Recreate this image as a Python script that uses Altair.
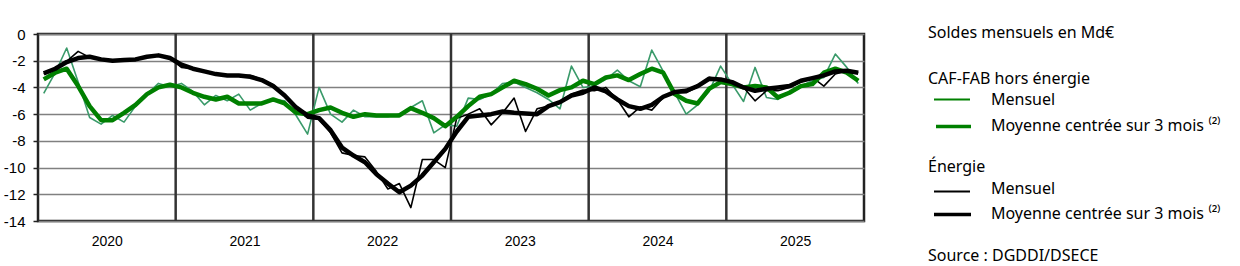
import altair as alt
import pandas as pd

years = [2020, 2021, 2022, 2023, 2024, 2025]

caf_mensuel = [
    -4.45, -2.9, -1.05, -3.6, -6.25, -6.75, -6.1, -6.6, -5.4, -4.5, -3.7, -3.95,
    -3.7, -4.3, -5.3, -4.6, -5.0, -4.5, -5.7, -5.2, -4.9, -5.0, -6.1, -7.5,
    -4.0, -6.0, -6.6, -5.7, -6.2, -6.2, -6.2, -6.0, -5.5, -5.0, -7.4, -6.8,
    -6.9, -4.8, -4.9, -4.5, -3.7, -3.6, -4.0, -4.4, -4.9, -5.6, -2.4, -4.0,
    -3.9, -3.4, -2.7, -3.5, -3.95, -1.2, -2.8, -4.4, -6.0, -5.3, -4.3, -2.4,
    -3.75, -5.05, -2.5, -4.75, -4.9, -4.3, -3.9, -3.5, -3.25, -1.5, -2.5, -3.7,
]
caf_moyenne = [
    -3.4, -2.9, -2.6, -3.9, -5.4, -6.45, -6.45, -5.9, -5.3, -4.5, -4.0, -3.8,
    -4.0, -4.4, -4.7, -4.9, -4.7, -5.2, -5.2, -5.2, -4.9, -5.2, -5.9, -6.0,
    -5.7, -5.5, -5.9, -6.2, -6.0, -6.1, -6.1, -6.1, -5.55, -5.9, -6.3, -6.9,
    -6.2, -5.4, -4.7, -4.5, -4.0, -3.5, -3.75, -4.1, -4.6, -4.2, -4.0, -3.5,
    -3.75, -3.25, -3.1, -3.45, -3.0, -2.6, -2.9, -4.5, -5.0, -5.2, -4.1, -3.6,
    -3.75, -4.0, -3.9, -4.0, -4.75, -4.4, -3.9, -3.75, -2.9, -2.6, -2.9, -3.5,
]
energie_mensuel = [
    -3.0, -2.6, -2.05, -1.3, -1.75, -1.9, -2.0, -1.95, -1.9, -1.75, -1.6, -1.8,
    -2.5, -2.6, -2.8, -3.0, -3.1, -3.15, -3.1, -3.4, -3.8, -4.6, -5.6, -6.3,
    -6.4, -7.4, -8.9, -9.1, -9.2, -10.3, -11.6, -11.2, -13.0, -9.4, -9.4, -10.0,
    -6.3, -6.0, -5.6, -6.8, -5.9, -4.8, -7.3, -5.6, -5.4, -5.1, -4.5, -4.2,
    -4.25, -4.0, -4.9, -6.2, -5.45, -5.7, -4.75, -4.4, -4.4, -3.95, -3.25, -3.4,
    -3.7, -4.0, -5.0, -4.25, -4.25, -4.0, -3.6, -3.25, -3.9, -3.0, -2.75, -2.9,
]
energie_moyenne = [
    -2.95, -2.6, -2.1, -1.8, -1.7, -1.9, -2.0, -1.95, -1.9, -1.7, -1.6, -1.8,
    -2.3, -2.6, -2.8, -3.0, -3.1, -3.1, -3.2, -3.45, -3.9, -4.6, -5.5, -6.1,
    -6.3, -7.2, -8.5, -9.1, -9.6, -10.5, -11.2, -11.85, -11.35, -10.6, -9.6, -8.6,
    -7.3, -6.2, -6.1, -6.0, -5.8, -5.9, -5.95, -6.0, -5.4, -5.1, -4.6, -4.4,
    -4.0, -4.3, -4.9, -5.4, -5.6, -5.3, -4.7, -4.35, -4.25, -3.9, -3.35, -3.4,
    -3.6, -4.0, -4.25, -4.1, -4.0, -3.9, -3.5, -3.3, -3.1, -2.8, -2.75, -2.9,
]
y_ticks = [0, -2, -4, -6, -8, -10, -12, -14]

FONT = "Noto Sans"
AXIS_FONT = "Liberation Sans"
GREEN_THIN = "#3a9a6a"
GREEN = "#008000"

n = len(caf_mensuel)
months = [i + 0.5 for i in range(n)]
df = pd.DataFrame({
    "m": months,
    "caf_mensuel": caf_mensuel,
    "caf_moyenne": caf_moyenne,
    "energie_mensuel": energie_mensuel,
    "energie_moyenne": energie_moyenne,
})
one = pd.DataFrame({"k": [0]})

x_scale = alt.Scale(domain=[0, 12 * len(years)], nice=False, zero=False)
x_axis = alt.Axis(
    values=[12 * i + 6 for i in range(len(years))],
    labelExpr=f"'' + ({years[0]} + floor(datum.value / 12))",
    ticks=False, grid=False, domain=False, title=None,
    labelFont=AXIS_FONT, labelFontSize=14, labelColor="#000", labelPadding=13,
)
y_scale = alt.Scale(domain=[-14, 0], nice=False, zero=False)
y_axis = alt.Axis(
    values=y_ticks, title=None, labelFont=AXIS_FONT, labelFontSize=15, labelColor="#000",
    labelExpr="'' + datum.value", labelPadding=8, tickSize=5, tickColor="#222",
    tickWidth=1.5, grid=True, gridColor="#808080", gridWidth=1.5, domain=False,
)

base = alt.Chart(df)

def series(col, color, width):
    return base.mark_line(color=color, strokeWidth=width, strokeJoin="round").encode(
        x=alt.X("m:Q", scale=x_scale, axis=x_axis),
        y=alt.Y(f"{col}:Q", scale=y_scale, axis=y_axis),
    )

bounds = pd.DataFrame({"b": [12 * i for i in range(1, len(years))]})
rules = alt.Chart(bounds).mark_rule(color="#333333", strokeWidth=2.5).encode(
    x=alt.X("b:Q", scale=x_scale, axis=x_axis)
)

l_caf_m = series("caf_mensuel", GREEN_THIN, 1.6)
l_en_m = series("energie_mensuel", "#000000", 1.6)
l_caf_ma = series("caf_moyenne", GREEN, 4.5)
l_en_ma = series("energie_moyenne", "#000000", 4.5)

def txt(s, x, y, size=16):
    return alt.Chart(one).mark_text(
        align="left", baseline="middle", font=FONT, fontSize=size, color="#000",
        fontWeight="normal"
    ).encode(x=alt.value(x), y=alt.value(y), text=alt.value(s))

def sample(x1, x2, y, color, w):
    return alt.Chart(one).mark_rule(color=color, strokeWidth=w).encode(
        x=alt.value(x1), x2=alt.value(x2), y=alt.value(y)
    )

sup = "Moyenne centrée sur 3 mois \u207d\u00b2\u207e"
legend = [
    txt("Soldes mensuels en Md€", 890, -1),
    txt("CAF-FAB hors énergie", 890, 45),
    sample(896, 932, 65.5, GREEN, 1.8),
    txt("Mensuel", 953, 66),
    sample(898, 933, 92.5, GREEN, 3.5),
    txt(sup, 953, 92),
    txt("Énergie", 890, 133),
    sample(896, 932, 157.5, "#000000", 1.8),
    txt("Mensuel", 953, 155),
    sample(896, 933, 180.5, "#000000", 3.5),
    txt(sup, 953, 180),
    txt("Source : DGDDI/DSECE", 890, 222),
]

chart = alt.layer(rules, l_caf_m, l_en_m, l_caf_ma, l_en_ma, *legend).properties(
    width=826, height=187,
    background="white",
    autosize=alt.AutoSizeParams(type="none"),
    padding={"left": 38, "top": 34, "right": 376, "bottom": 45},
).configure_view(stroke="#222222", strokeWidth=2.5)

chart.save("out.html", embed_options={"renderer": "svg", "actions": False})
